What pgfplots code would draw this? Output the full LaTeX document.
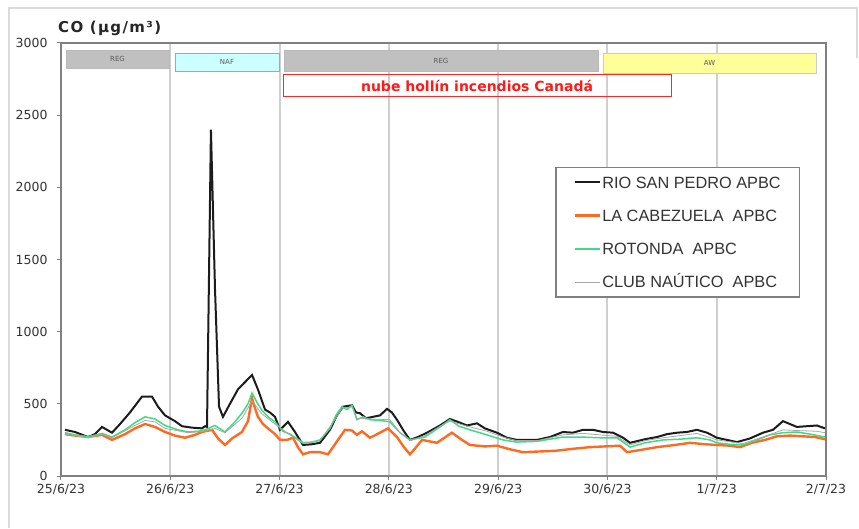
\documentclass[border=0pt]{standalone}
\usepackage{fontspec}
\setmainfont{DejaVu Sans}
\newfontfamily\legendfont{Liberation Sans}
\usepackage{pgfplots}
\pgfplotsset{compat=1.18}

\definecolor{axisgray}{HTML}{808080}
\definecolor{gridgray}{HTML}{CFCFCF}
\definecolor{labelgray}{HTML}{333333}
\definecolor{rspblack}{HTML}{1C1C1C}
\definecolor{cabezuela}{HTML}{FF6A22}
\definecolor{rotonda}{HTML}{3EDC84}
\definecolor{nautico}{HTML}{A8A8A8}
\definecolor{regfill}{HTML}{C0C0C0}
\definecolor{naffill}{HTML}{CCFFFF}
\definecolor{awfill}{HTML}{FFFF99}
\definecolor{framegray}{HTML}{DADADA}

\begin{document}
\begin{tikzpicture}
\useasboundingbox (0pt,0pt) rectangle (859pt,528pt);
% light frame around the figure
\draw[framegray, line width=2.5pt] (9pt,0pt) -- (9pt,520pt) -- (857pt,520pt) -- (857pt,470pt);

\begin{axis}[
  at={(61pt,52pt)}, anchor=south west,
  scale only axis, width=765pt, height=433pt,
  xmin=0, xmax=7, ymin=0, ymax=3000,
  xtick={0,1,2,3,4,5,6,7},
  xticklabels={25/6/23,26/6/23,27/6/23,28/6/23,29/6/23,30/6/23,1/7/23,2/7/23},
  ytick={0,500,1000,1500,2000,2500,3000},
  xtick pos=left, ytick pos=left,
  tick align=outside, major tick length=4pt,
  tick style={axisgray, line width=1pt},
  xmajorgrids,
  major x grid style={gridgray, line width=2pt},
  axis line style={axisgray, line width=1.4pt},
  /pgf/number format/assume math mode=true,
  /pgf/number format/1000 sep={},
  tick label style={font=\fontsize{12.5}{14}\selectfont, text=labelgray},
  yticklabel style={xshift=-6pt},
  xticklabel style={yshift=-1pt},
  legend cell align=left,
  legend image code/.code={\draw[#1] (0pt,0pt) -- (25pt,0pt);},
  legend style={
    at={(0.646,0.714)}, anchor=north west,
    draw=axisgray, line width=1.4pt, fill=white,
    font=\legendfont\fontsize{16.3}{18}\selectfont, text=labelgray,
    inner xsep=18pt, inner ysep=8pt, row sep=19.5pt,
    nodes={inner sep=1pt, text height=11.7pt, text depth=0pt},
  },
]

% RIO SAN PEDRO APBC
\addplot[rspblack, line width=2pt] coordinates {
(0.037,320) (0.128,305) (0.247,270) (0.311,290) (0.375,340) (0.467,300)
(0.540,360) (0.631,440) (0.741,550) (0.833,550) (0.888,480) (0.952,420)
(1.043,380) (1.107,345) (1.199,335) (1.290,330) (1.318,345) (1.336,340)
(1.372,2400) (1.409,1300) (1.446,480) (1.482,410) (1.546,500) (1.619,600)
(1.683,650) (1.748,700) (1.802,600) (1.867,460) (1.912,440) (1.958,410)
(2.004,320) (2.077,375) (2.141,305) (2.214,215) (2.296,220) (2.370,230)
(2.461,320) (2.525,420) (2.580,480) (2.663,490) (2.699,440) (2.736,435)
(2.791,400) (2.855,410) (2.919,420) (2.983,465) (3.028,440) (3.074,390)
(3.138,310) (3.193,250) (3.266,270) (3.349,300) (3.468,350) (3.559,395)
(3.632,375) (3.715,350) (3.806,365) (3.879,330) (3.989,300) (4.081,265)
(4.172,250) (4.355,250) (4.474,270) (4.593,305) (4.684,300) (4.776,320)
(4.868,320) (4.959,305) (5.051,300) (5.143,265) (5.207,230) (5.344,255)
(5.453,270) (5.545,290) (5.636,300) (5.728,305) (5.819,320) (5.911,300)
(6.002,265) (6.094,250) (6.185,235) (6.304,260) (6.423,300) (6.515,320)
(6.606,380) (6.670,360) (6.734,340) (6.826,345) (6.917,350) (6.991,330)
};
\addlegendentry{RIO SAN PEDRO APBC}

% LA CABEZUELA APBC
\addplot[cabezuela, line width=2.4pt] coordinates {
(0.037,290) (0.128,280) (0.247,270) (0.375,285) (0.467,250) (0.586,290)
(0.677,330) (0.769,360) (0.860,340) (0.952,305) (1.043,280) (1.135,265)
(1.226,285) (1.290,305) (1.382,320) (1.437,260) (1.501,215) (1.565,260)
(1.656,305) (1.711,380) (1.748,540) (1.775,470) (1.802,410) (1.848,360)
(1.894,330) (1.958,290) (2.004,250) (2.068,250) (2.123,265) (2.168,200)
(2.214,150) (2.278,165) (2.370,165) (2.443,150) (2.525,240) (2.599,320)
(2.663,315) (2.708,285) (2.754,310) (2.827,265) (2.919,300) (2.992,330)
(3.074,270) (3.138,200) (3.193,150) (3.239,190) (3.303,250) (3.440,230)
(3.577,300) (3.669,250) (3.742,215) (3.879,205) (3.989,210) (4.108,185)
(4.227,165) (4.383,170) (4.529,175) (4.703,190) (4.840,200) (4.978,205)
(5.115,210) (5.179,165) (5.298,180) (5.453,200) (5.618,215) (5.755,230)
(5.892,220) (6.002,215) (6.121,210) (6.213,200) (6.323,230) (6.442,250)
(6.551,275) (6.670,280) (6.789,275) (6.899,270) (6.991,255)
};
\addlegendentry{LA CABEZUELA~ APBC}

% ROTONDA APBC
\addplot[rotonda, line width=1.5pt] coordinates {
(0.037,300) (0.128,285) (0.247,270) (0.375,295) (0.467,270) (0.586,320)
(0.677,370) (0.769,410) (0.860,395) (0.952,350) (1.071,320) (1.162,305)
(1.253,310) (1.318,320) (1.409,350) (1.501,305) (1.574,360) (1.656,435)
(1.711,500) (1.748,575) (1.793,510) (1.839,455) (1.894,410) (1.958,375)
(2.031,310) (2.095,290) (2.159,260) (2.214,230) (2.296,235) (2.370,250)
(2.461,330) (2.516,420) (2.571,480) (2.617,460) (2.663,490) (2.708,390)
(2.763,410) (2.827,390) (2.919,385) (3.010,375) (3.102,300) (3.193,250)
(3.330,270) (3.468,340) (3.559,390) (3.641,345) (3.742,320) (3.898,285)
(4.044,250) (4.172,235) (4.355,240) (4.474,255) (4.593,270) (4.749,270)
(4.932,265) (5.087,265) (5.207,200) (5.344,230) (5.508,250) (5.663,255)
(5.819,265) (5.938,250) (6.002,230) (6.121,220) (6.240,215) (6.368,250)
(6.487,285) (6.606,300) (6.734,305) (6.853,290) (6.991,270)
};
\addlegendentry{ROTONDA~ APBC}

% CLUB NAUTICO APBC
\addplot[nautico, line width=0.8pt] coordinates {
(0.037,290) (0.247,265) (0.375,290) (0.467,265) (0.677,350) (0.769,385)
(0.860,375) (0.952,330) (1.162,300) (1.318,310) (1.409,330) (1.501,300)
(1.656,400) (1.748,520) (1.839,430) (1.958,360) (2.095,285) (2.214,225)
(2.370,245) (2.516,400) (2.571,470) (2.663,480) (2.708,400) (2.827,395)
(3.010,390) (3.102,300) (3.193,245) (3.330,280) (3.468,345) (3.559,380)
(3.742,340) (3.898,310) (4.044,270) (4.172,245) (4.355,245) (4.593,285)
(4.776,295) (4.932,285) (5.087,275) (5.207,215) (5.344,245) (5.508,265)
(5.663,280) (5.819,295) (6.002,250) (6.240,225) (6.423,270) (6.606,320)
(6.734,315) (6.917,310) (6.991,300)
};
\addlegendentry{CLUB NAÚTICO~ APBC}
\end{axis}

% period bands along the top of the plot
\draw[gray!55, fill=regfill, line width=0.8pt] (66pt,460pt) rectangle (169pt,478pt);
\node[font=\fontsize{7}{8}\selectfont, text=gray!70!black] at (117.5pt,469pt) {REG};
\draw[gray!70, fill=naffill, line width=0.8pt] (175pt,457pt) rectangle (279pt,475pt);
\node[font=\fontsize{7}{8}\selectfont, text=gray!70!black] at (227pt,466pt) {NAF};
\draw[gray!55, fill=regfill, line width=0.8pt] (284pt,457pt) rectangle (598pt,478pt);
\node[font=\fontsize{7}{8}\selectfont, text=gray!70!black] at (441pt,467.5pt) {REG};
\draw[gray!40, fill=awfill, line width=0.8pt] (603pt,455pt) rectangle (816pt,475pt);
\node[font=\fontsize{7}{8}\selectfont, text=gray!70!black] at (709.5pt,465pt) {AW};
\draw[red!85, line width=1pt] (283pt,431pt) rectangle (671pt,453pt);
\node[font=\bfseries\fontsize{14}{16}\selectfont, text=red!90] at (477pt,442pt) {nube hollín incendios Canadá};

% unit label
\node[anchor=base west, font=\bfseries\fontsize{15}{17}\selectfont\addfontfeature{LetterSpace=9}, text=black!85, inner sep=0pt] at (58pt,495pt) {CO (µg/m³)};
\end{tikzpicture}
\end{document}
